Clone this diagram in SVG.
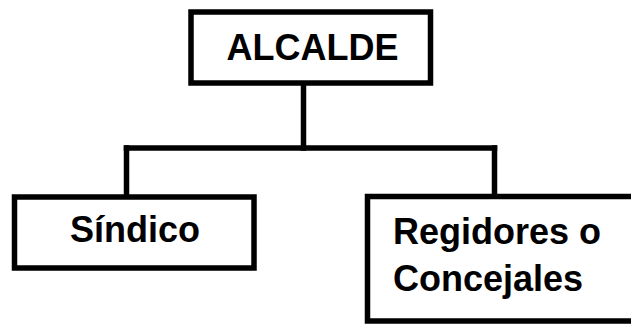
<svg xmlns="http://www.w3.org/2000/svg" width="631" height="324" viewBox="0 0 631 324">
<style>
.box{fill:#fff;stroke:#000;stroke-width:5.5}
.ln{fill:none;stroke:#000;stroke-width:5.5;stroke-linecap:square}
.t{font-family:"Liberation Sans",Arial,sans-serif;font-weight:bold;font-size:36px;fill:#000}
</style>
<rect width="631" height="324" fill="#fff"/>
<g id="connectors">
<line class="ln" x1="303.5" y1="83" x2="303.5" y2="148"/>
<line class="ln" x1="126.5" y1="148" x2="494.5" y2="148"/>
<line class="ln" x1="126.5" y1="148" x2="126.5" y2="197"/>
<line class="ln" x1="494.5" y1="148" x2="494.5" y2="197"/>
</g>
<g id="alcalde">
<rect class="box" x="191" y="12" width="239.5" height="71"/>
<text class="t" x="312.5" y="60" text-anchor="middle">ALCALDE</text>
</g>
<g id="sindico">
<rect class="box" x="14.5" y="197" width="239.5" height="71"/>
<text class="t" x="135" y="242" text-anchor="middle">Síndico</text>
</g>
<g id="regidores">
<rect class="box" x="367.5" y="196.5" width="290" height="124.5"/>
<text class="t" x="393" y="244">Regidores o</text>
<text class="t" x="393" y="291">Concejales</text>
</g>
</svg>
